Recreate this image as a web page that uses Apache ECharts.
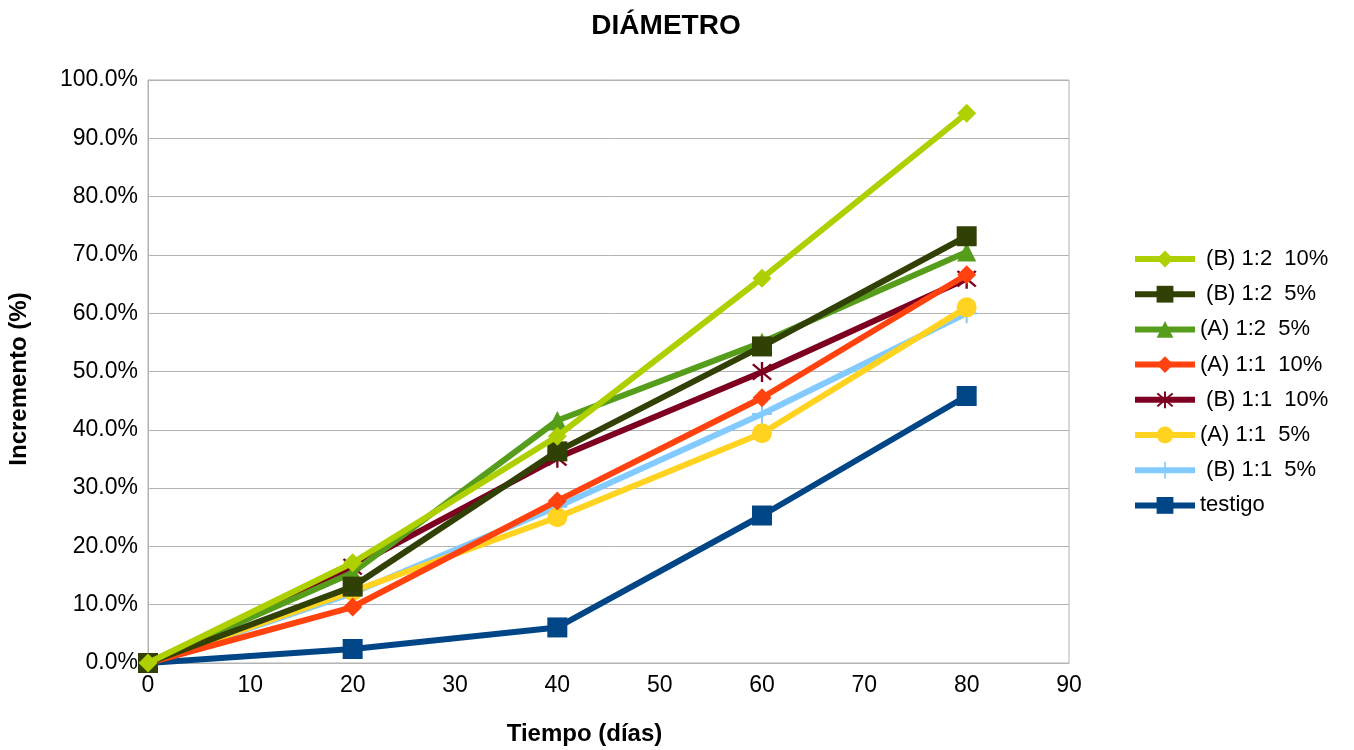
<!DOCTYPE html>
<html>
<head>
<meta charset="utf-8">
<script src="https://cdn.jsdelivr.net/npm/echarts@6/dist/echarts.min.js"></script>
<style>
html,body{margin:0;padding:0;background:#fff;}
#chart{width:1354px;height:750px;}
</style>
</head>
<body>
<div id="chart"></div>
<script>
var days = [0, 20, 40, 60, 80];
var seriesNames = [' (B) 1:2  10%', ' (B) 1:2  5%', '(A) 1:2  5%', '(A) 1:1  10%', ' (B) 1:1  10%', '(A) 1:1  5%', ' (B) 1:1  5%', 'testigo'];
var b12_10 = [0, 17.2, 38.9, 66.0, 94.3];
var b12_5  = [0, 13.1, 36.3, 54.3, 73.2];
var a12_5  = [0, 15.5, 41.6, 55.0, 70.5];
var a11_10 = [0, 9.6, 27.8, 45.5, 66.6];
var b11_10 = [0, 16.5, 35.2, 49.9, 65.9];
var a11_5  = [0, 12.3, 25.0, 39.4, 61.0];
var b11_5  = [0, 12.0, 26.8, 42.7, 60.0];
var testigo = [0, 2.4, 6.1, 25.3, 45.8];
var yTicks = [0, 10, 20, 30, 40, 50, 60, 70, 80, 90, 100];

var allValues = [b12_10, b12_5, a12_5, a11_10, b11_10, a11_5, b11_5, testigo];
var colors = ['#aecf00', '#314004', '#579d1c', '#ff420e', '#7e0021', '#ffd320', '#83caff', '#004586'];
var starPath = 'path://M9,0L11,0L11,20L9,20Z M1.5,3L3,1.5L18.5,17L17,18.5Z M17,1.5L18.5,3L3,18.5L1.5,17Z';
var plusPath = 'path://M9,0h2v9h9v2h-9v9h-2v-9h-9v-2h9z';
var symbols = ['diamond', 'rect', 'triangle', 'diamond', starPath, 'circle', plusPath, 'rect'];
var sizes = [19, 20, 19, 19, 20, 20, 20, 20];

var font = 'Liberation Sans, Arial, sans-serif';

var series = allValues.map(function (vals, i) {
  return {
    name: seriesNames[i],
    type: 'line',
    data: days.map(function (d, j) { return [d, vals[j]]; }),
    symbol: symbols[i],
    symbolSize: sizes[i],
    showAllSymbol: true,
    color: colors[i],
    lineStyle: { width: 6, color: colors[i] },
    itemStyle: { color: colors[i] },
    z: 20 - i
  };
});

var chart = echarts.init(document.getElementById('chart'), null, { renderer: 'canvas' });
chart.setOption({
  animation: false,
  backgroundColor: '#ffffff',
  title: {
    text: 'DIÁMETRO',
    left: 661,
    top: 7,
    textAlign: 'center',
    textStyle: { fontFamily: font, fontSize: 28, fontWeight: 'bold', color: '#000' }
  },
  legend: {
    orient: 'vertical',
    left: 1132,
    top: 248,
    padding: 0,
    itemWidth: 60,
    itemHeight: 21,
    itemGap: 13.2,
    data: seriesNames,
    lineStyle: { width: 6 },
    textStyle: { fontFamily: font, fontSize: 22, color: '#000' }
  },
  grid: {
    left: 148,
    right: 285,
    top: 80,
    bottom: 87,
    show: true,
    borderColor: '#b3b3b3',
    borderWidth: 1,
    containLabel: false,
    outerBoundsMode: 'none'
  },
  xAxis: {
    type: 'value',
    min: 0,
    max: 90,
    interval: 10,
    name: 'Tiempo (días)',
    nameLocation: 'middle',
    nameGap: 59,
    nameTextStyle: { fontFamily: font, fontSize: 24, fontWeight: 'bold', color: '#000', padding: [0, 48, 0, 0] },
    axisLine: { show: true, lineStyle: { color: '#b3b3b3', width: 1 } },
    axisTick: { show: false },
    splitLine: { show: false },
    axisLabel: { fontFamily: font, fontSize: 23, color: '#000', margin: 11 }
  },
  yAxis: {
    type: 'value',
    min: 0,
    max: 100,
    interval: 10,
    name: 'Incremento (%)',
    nameLocation: 'middle',
    nameRotate: 90,
    nameGap: 117,
    nameTextStyle: { fontFamily: font, fontSize: 24, fontWeight: 'bold', color: '#000', padding: [0, 15, 0, 0] },
    axisLine: { show: true, lineStyle: { color: '#b3b3b3', width: 1 } },
    axisTick: { show: false },
    splitLine: { show: true, lineStyle: { color: '#b3b3b3', width: 1 } },
    axisLabel: {
      fontFamily: font, fontSize: 23, color: '#000', margin: 10,
      formatter: function (v) { return v.toFixed(1) + '%'; }
    }
  },
  series: series
});
</script>
</body>
</html>
